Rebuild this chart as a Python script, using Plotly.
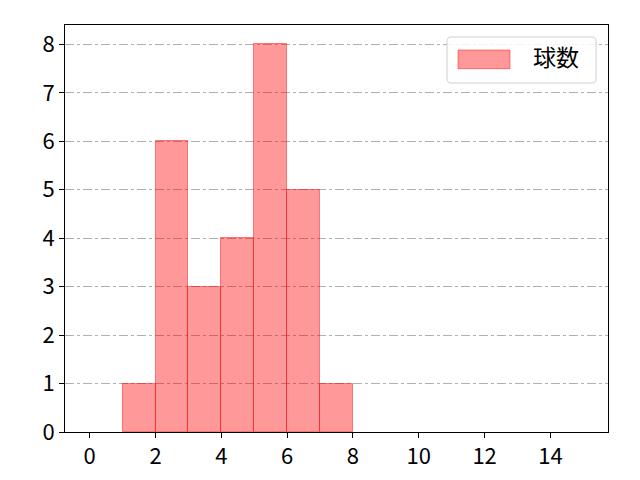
import plotly.graph_objects as go

# histogram bins (left edges) and counts
bin_starts = [1, 2, 3, 4, 5, 6, 7]
bin_width = 1
counts = [1, 6, 3, 4, 8, 5, 1]
series_name = "球数"
x_ticks = [0, 2, 4, 6, 8, 10, 12, 14]
y_ticks = [0, 1, 2, 3, 4, 5, 6, 7, 8]

centers = [b + bin_width / 2 for b in bin_starts]
fill = "rgba(255,0,0,0.4)"
edge = "rgba(255,0,0,0.45)"

fig = go.Figure()
fig.add_trace(go.Bar(
    x=centers, y=counts, width=bin_width, name=series_name,
    marker=dict(color=fill, line=dict(color=edge, width=1)),
    showlegend=False,
))


def rounded_box(x0, y0, x1, y1, rx, ry):
    return (f"M{x0+rx},{y0} L{x1-rx},{y0} Q{x1},{y0} {x1},{y0+ry} "
            f"L{x1},{y1-ry} Q{x1},{y1} {x1-rx},{y1} L{x0+rx},{y1} "
            f"Q{x0},{y1} {x0},{y1-ry} L{x0},{y0+ry} Q{x0},{y0} {x0+rx},{y0} Z")


# matplotlib-like legend drawn in paper coordinates
fig.add_shape(type="path", xref="paper", yref="paper",
              path=rounded_box(0.7035, 0.8575, 0.978, 0.9705, 0.0074, 0.0098),
              fillcolor="rgba(255,255,255,0.85)", line=dict(color="#d0d0d0", width=1),
              layer="above")
fig.add_shape(type="rect", xref="paper", yref="paper",
              x0=0.7238, x1=0.8195, y0=0.8927, y1=0.9386,
              fillcolor=fill, line=dict(color=edge, width=1), layer="above")
fig.add_annotation(xref="paper", yref="paper", x=0.859, y=0.9231,
                   xanchor="left", yanchor="middle", showarrow=False,
                   text=series_name, font=dict(size=23))

fig.update_layout(
    width=640, height=480,
    margin=dict(l=65, r=32, t=25, b=48, autoexpand=False),
    plot_bgcolor="white", paper_bgcolor="white",
    font=dict(family="Noto Sans CJK JP", size=22, color="black"),
    bargap=0,
    showlegend=False,
)
fig.update_xaxes(range=[-0.75, 15.75], tickvals=x_ticks, showgrid=False, zeroline=False,
                 showline=True, linecolor="black", linewidth=1, mirror=True,
                 ticks="outside", ticklen=5, tickcolor="black")
fig.update_yaxes(range=[0, 8.4], tickvals=y_ticks, showgrid=True, gridcolor="#b0b0b0",
                 griddash="dashdot", gridwidth=1, zeroline=False,
                 showline=True, linecolor="black", linewidth=1, mirror=True,
                 ticks="outside", ticklen=5, tickcolor="black")

fig.write_html("out.html", config={"displayModeBar": False},
               post_script="document.body.style.margin='0';")
